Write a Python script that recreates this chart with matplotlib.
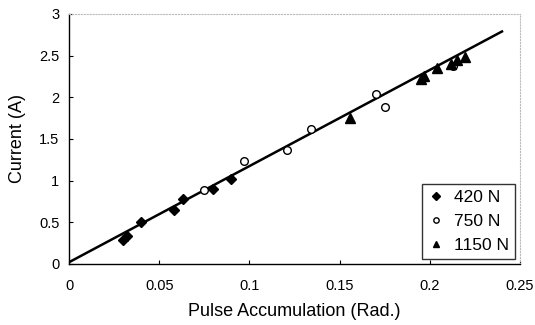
import matplotlib
matplotlib.use("Agg")
import matplotlib.pyplot as plt
import numpy as np

plt.rcParams['font.family'] = ['Liberation Sans', 'DejaVu Sans']

x420 = [0.030, 0.032, 0.040, 0.058, 0.063, 0.080, 0.090]
y420 = [0.29, 0.33, 0.50, 0.65, 0.78, 0.90, 1.02]
x750 = [0.075, 0.097, 0.121, 0.134, 0.170, 0.175, 0.213]
y750 = [0.89, 1.24, 1.37, 1.62, 2.04, 1.88, 2.38]
x1150 = [0.156, 0.195, 0.197, 0.204, 0.212, 0.215, 0.2195]
y1150 = [1.75, 2.22, 2.26, 2.35, 2.40, 2.45, 2.48]
fit_x = [0.0, 0.24]
fit_y = [0.02, 2.79]

xticks = [0, 0.05, 0.1, 0.15, 0.2, 0.25]
xticklabels = ['0', '0.05', '0.1', '0.15', '0.2', '0.25']
yticks = [0, 0.5, 1, 1.5, 2, 2.5, 3]
yticklabels = ['0', '0.5', '1', '1.5', '2', '2.5', '3']

fig = plt.figure(figsize=(5.35, 3.25), dpi=100)
ax = fig.add_axes([0.129, 0.188, 0.843, 0.769])

ax.plot(fit_x, fit_y, color='black', lw=1.8, zorder=2)
ax.plot(x420, y420, linestyle='none', marker='D', ms=5.5, color='black', label='420 N', zorder=3)
ax.plot(x750, y750, linestyle='none', marker='o', ms=5.5, mfc='white', mec='black', mew=1.0, label='750 N', zorder=3)
ax.plot(x1150, y1150, linestyle='none', marker='^', ms=6.5, color='black', label='1150 N', zorder=3)

ax.set_xlim(0, 0.25)
ax.set_ylim(0, 3)
ax.set_xticks(xticks)
ax.set_xticklabels(xticklabels)
ax.set_yticks(yticks)
ax.set_yticklabels(yticklabels)
ax.tick_params(direction='in', length=3, labelsize=10.5)
ax.tick_params(axis='x', pad=11)
ax.tick_params(axis='y', pad=7)

for s in ['top', 'right']:
    ax.spines[s].set_color('#bbbbbb')
    ax.spines[s].set_linestyle(':')
    ax.spines[s].set_linewidth(0.8)
for s in ['left', 'bottom']:
    ax.spines[s].set_color('black')
    ax.spines[s].set_linewidth(1.0)

ax.set_xlabel('Pulse Accumulation (Rad.)', fontsize=13, labelpad=7)
ax.set_ylabel('Current (A)', fontsize=13, labelpad=9)

leg = ax.legend(loc='lower right', fontsize=12.5, frameon=True, fancybox=False,
                edgecolor='black', borderaxespad=0.3, handletextpad=0.5,
                handlelength=1.0, labelspacing=0.5, markerscale=0.7,
                borderpad=0.35)
leg.get_frame().set_linewidth(1.0)

fig.savefig('out.png', dpi=100)
